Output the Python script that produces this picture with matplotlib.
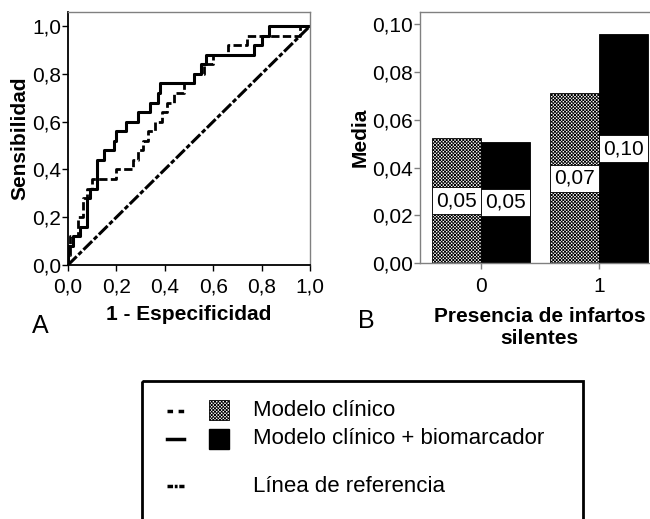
import numpy as np
import matplotlib
matplotlib.use("Agg")
import matplotlib.pyplot as plt
from matplotlib.ticker import FuncFormatter
from matplotlib.patches import Rectangle
from matplotlib.lines import Line2D

plt.rcParams["font.family"] = ["Liberation Sans", "DejaVu Sans"]
plt.rcParams["hatch.linewidth"] = 0.6

# ------------------------------------------------------------
# datos: curvas ROC (vertices)
# ------------------------------------------------------------
fpr_clinico = [0, 0, 0.01, 0.01, 0.04, 0.04, 0.06, 0.06, 0.08, 0.08, 0.10, 0.10,
               0.20, 0.20, 0.27, 0.27, 0.29, 0.29, 0.31, 0.31, 0.33, 0.33, 0.36, 0.36,
               0.39, 0.39, 0.41, 0.41, 0.44, 0.44, 0.48, 0.48, 0.52, 0.52, 0.56, 0.56,
               0.60, 0.60, 0.66, 0.66, 0.74, 0.74, 0.96, 0.96, 1.0]
tpr_clinico = [0, 0.04, 0.04, 0.12, 0.12, 0.20, 0.20, 0.28, 0.28, 0.32, 0.32, 0.36,
               0.36, 0.40, 0.40, 0.44, 0.44, 0.48, 0.48, 0.52, 0.52, 0.56, 0.56, 0.60,
               0.60, 0.64, 0.64, 0.68, 0.68, 0.72, 0.72, 0.76, 0.76, 0.80, 0.80, 0.84,
               0.84, 0.88, 0.88, 0.92, 0.92, 0.96, 0.96, 1.0, 1.0]

fpr_bio = [0, 0, 0.02, 0.02, 0.05, 0.05, 0.08, 0.08, 0.09, 0.09, 0.12, 0.12,
           0.15, 0.15, 0.19, 0.19, 0.20, 0.20, 0.24, 0.24, 0.29, 0.29, 0.34, 0.34,
           0.37, 0.37, 0.38, 0.38, 0.52, 0.52, 0.55, 0.55, 0.57, 0.57, 0.77, 0.77,
           0.80, 0.80, 0.83, 0.83, 1.0]
tpr_bio = [0, 0.08, 0.08, 0.12, 0.12, 0.16, 0.16, 0.28, 0.28, 0.32, 0.32, 0.44,
           0.44, 0.48, 0.48, 0.52, 0.52, 0.56, 0.56, 0.60, 0.60, 0.64, 0.64, 0.68,
           0.68, 0.72, 0.72, 0.76, 0.76, 0.80, 0.80, 0.84, 0.84, 0.88, 0.88, 0.92,
           0.92, 0.96, 0.96, 1.0, 1.0]

ref_x = [0.0, 1.0]
ref_y = [0.0, 1.0]

# ------------------------------------------------------------
# datos: medias por grupo
# ------------------------------------------------------------
grupos = ["0", "1"]
media_clinico = [0.0522, 0.0710]
media_bio = [0.0508, 0.0957]

labels_leyenda = ["Modelo clínico", "Modelo clínico + biomarcador", "Línea de referencia"]


def coma(v, nd=1):
    return f"{v:.{nd}f}".replace(".", ",")


W, H = 650, 519
fig = plt.figure(figsize=(W / 100, H / 100), dpi=100)

GRIS = "#808080"
FS = 15
TRAMA = "x" * 10

# ------------------------------------------------------------
# panel A: curvas ROC
# ------------------------------------------------------------
axA = fig.add_axes([68 / W, 1 - 265 / H, 242 / W, 253.3 / H])
axA.plot(ref_x, ref_y, color="black", lw=2.2, ls=(0, (4, 0.8, 1.5, 0.8)))
axA.plot(fpr_clinico, tpr_clinico, color="black", lw=2.0, ls=(0, (3, 1.2)))
axA.plot(fpr_bio, tpr_bio, color="black", lw=2.2)
axA.set_xlim(0, 1)
axA.set_ylim(0, 1.06)
axA.set_xticks(np.arange(0, 1.01, 0.2))
axA.set_yticks(np.arange(0, 1.01, 0.2))
axA.xaxis.set_major_formatter(FuncFormatter(lambda v, p: coma(v, 1)))
axA.yaxis.set_major_formatter(FuncFormatter(lambda v, p: coma(v, 1)))
axA.tick_params(labelsize=FS, length=4, width=1, pad=1)
axA.tick_params(axis="x", pad=5)
for s in ["top", "right"]:
    axA.spines[s].set_color(GRIS)
    axA.spines[s].set_linewidth(1)
for s in ["left", "bottom"]:
    axA.spines[s].set_linewidth(1.3)
axA.set_xlabel("1 - Especificidad", fontsize=FS, fontweight="bold", labelpad=6)
axA.set_ylabel("Sensibilidad", fontsize=FS, fontweight="bold", labelpad=2)
fig.text(32 / W, 1 - 333 / H, "A", fontsize=18)

# ------------------------------------------------------------
# panel B: barras de medias
# ------------------------------------------------------------
axB = fig.add_axes([420 / W, 1 - 263.3 / H, 239.7 / W, 251.6 / H])
x = np.arange(len(grupos))
bw = 0.414
b1 = axB.bar(x - bw / 2, media_clinico, bw, facecolor="white", edgecolor="black",
             hatch=TRAMA, lw=0.6)
b2 = axB.bar(x + bw / 2, media_bio, bw, facecolor="black", edgecolor="black", lw=0.6)
for cont in (b1, b2):
    axB.bar_label(cont, fmt=lambda v: coma(v, 2), label_type="center", fontsize=FS,
                  bbox=dict(boxstyle="square,pad=0.2", facecolor="white",
                            edgecolor="black", lw=0.6))
axB.set_xlim(-0.513, 1.513)
axB.set_ylim(0, 0.1051)
axB.set_xticks(x)
axB.set_xticklabels(grupos)
axB.set_yticks(np.arange(0, 0.101, 0.02))
axB.yaxis.set_major_formatter(FuncFormatter(lambda v, p: coma(v, 2)))
axB.tick_params(labelsize=FS, length=4, width=1, pad=1, color=GRIS)
axB.tick_params(axis="x", pad=6)
for s in axB.spines.values():
    s.set_color(GRIS)
    s.set_linewidth(1)
axB.set_xlabel("Presencia de infartos\nsilentes", fontsize=FS, fontweight="bold",
               labelpad=8, linespacing=1.2)
axB.set_ylabel("Media", fontsize=FS, fontweight="bold", labelpad=2)
fig.text(358 / W, 1 - 328 / H, "B", fontsize=18)

# ------------------------------------------------------------
# leyenda comun (dibujada a mano)
# ------------------------------------------------------------
axL = fig.add_axes([0, 0, 1, 1])
axL.set_xlim(0, W)
axL.set_ylim(H, 0)
axL.axis("off")
axL.add_patch(Rectangle((142, 381), 441, 160, facecolor="none", edgecolor="black", lw=2))
filas_y = [411, 439, 486]
estilos = [dict(ls=(0, (1.6, 1.6)), lw=2.5), dict(ls="-", lw=2.5),
           dict(ls=(0, (1.6, 0.5, 0.8, 0.5)), lw=2.5)]
for yy, st in zip(filas_y, estilos):
    axL.add_line(Line2D([167, 184], [yy, yy], color="black", **st))
axL.add_patch(Rectangle((209, filas_y[0] - 11), 20, 20, facecolor="white", edgecolor="black",
                        hatch=TRAMA, lw=0.6))
axL.add_patch(Rectangle((209, filas_y[1] - 10), 20, 20, facecolor="black", edgecolor="black"))
for yy, lab in zip(filas_y, labels_leyenda):
    axL.text(253, yy, lab, fontsize=16, va="center", ha="left")

fig.savefig("out.png", dpi=100)
